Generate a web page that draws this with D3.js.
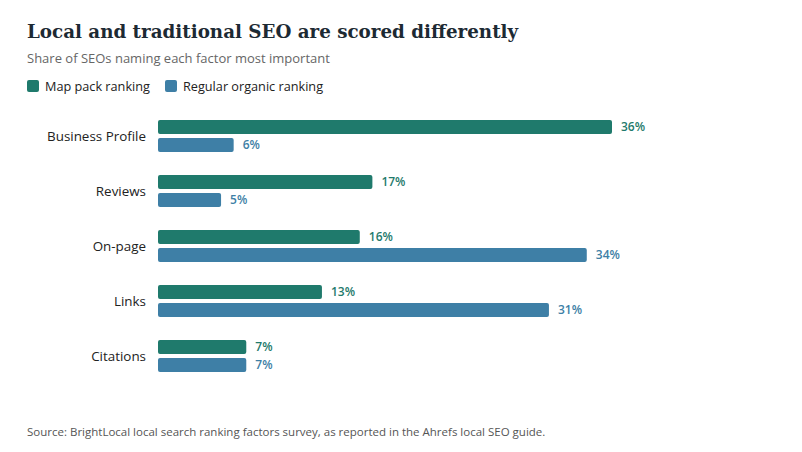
<!DOCTYPE html>
<html>
<head>
<meta charset="utf-8">
<script src="https://cdn.jsdelivr.net/npm/d3@7"></script>
<style>
body { margin: 0; background: #fff; }
</style>
</head>
<body>
<script>
var categories = ["Business Profile", "Reviews", "On-page", "Links", "Citations"];
var seriesNames = ["Map pack ranking", "Regular organic ranking"];
var mapPack = [36, 17, 16, 13, 7];
var organic = [6, 5, 34, 31, 7];
var colors = ["#1f7a6c", "#3e7fa6"];

var w = 802;
var h = 452;
var font = "'Open Sans', 'Noto Sans', sans-serif";

var svg = d3.select("body")
    .append("svg")
    .attr("width", w)
    .attr("height", h)
    .style("font-family", font);

svg.append("text")
    .attr("x", 27)
    .attr("y", 38)
    .attr("font-family", "'DejaVu Serif', Georgia, serif")
    .attr("font-weight", "bold")
    .attr("font-size", 18.3)
    .attr("fill", "#1d2a33")
    .text("Local and traditional SEO are scored differently");

svg.append("text")
    .attr("x", 27)
    .attr("y", 63)
    .attr("font-size", 13)
    .attr("fill", "#666")
    .text("Share of SEOs naming each factor most important");

// legend
var legendX = [27, 165];
seriesNames.forEach(function(name, i) {
    svg.append("rect")
        .attr("x", legendX[i])
        .attr("y", 80)
        .attr("width", 12)
        .attr("height", 12)
        .attr("rx", 2)
        .attr("fill", colors[i]);
    svg.append("text")
        .attr("x", legendX[i] + 18)
        .attr("y", 91)
        .attr("font-size", 12.7)
        .attr("fill", "#222")
        .text(name);
});

var data = categories.map(function(c, i) {
    return { cat: c, values: [mapPack[i], organic[i]] };
});

var xScale = d3.scaleLinear()
    .domain([0, 36])
    .range([158, 612]);

var yScale = d3.scaleBand()
    .domain(categories)
    .range([108.5, 383.5])
    .paddingInner(0.418)
    .paddingOuter(0.209);

var inner = d3.scaleBand()
    .domain([0, 1])
    .range([0, yScale.bandwidth()])
    .paddingInner(0.222);

// category labels
svg.append("g")
    .selectAll("text")
    .data(data)
    .enter()
    .append("text")
    .attr("x", 146)
    .attr("y", function(d) { return yScale(d.cat) + yScale.bandwidth() / 2; })
    .attr("dy", "0.35em")
    .attr("text-anchor", "end")
    .attr("font-size", 13.4)
    .attr("fill", "#222")
    .text(function(d) { return d.cat; });

var groups = svg.append("g")
    .selectAll("g")
    .data(data)
    .enter()
    .append("g")
    .attr("transform", function(d) { return "translate(0," + yScale(d.cat) + ")"; });

groups.selectAll("rect")
    .data(function(d) { return d.values; })
    .enter()
    .append("rect")
    .attr("x", xScale(0))
    .attr("y", function(d, i) { return inner(i); })
    .attr("width", function(d) { return xScale(d) - xScale(0); })
    .attr("height", inner.bandwidth())
    .attr("rx", 2)
    .attr("fill", function(d, i) { return colors[i]; });

groups.selectAll("text")
    .data(function(d) { return d.values; })
    .enter()
    .append("text")
    .attr("x", function(d) { return xScale(d) + 9; })
    .attr("y", function(d, i) { return inner(i) + inner.bandwidth() / 2; })
    .attr("dy", "0.35em")
    .attr("font-size", 12)
    .attr("font-weight", 600)
    .attr("fill", function(d, i) { return colors[i]; })
    .text(function(d) { return d + "%"; });

svg.append("text")
    .attr("x", 27)
    .attr("y", 436)
    .attr("font-size", 11.5)
    .attr("fill", "#555")
    .text("Source: BrightLocal local search ranking factors survey, as reported in the Ahrefs local SEO guide.");
</script>
</body>
</html>
